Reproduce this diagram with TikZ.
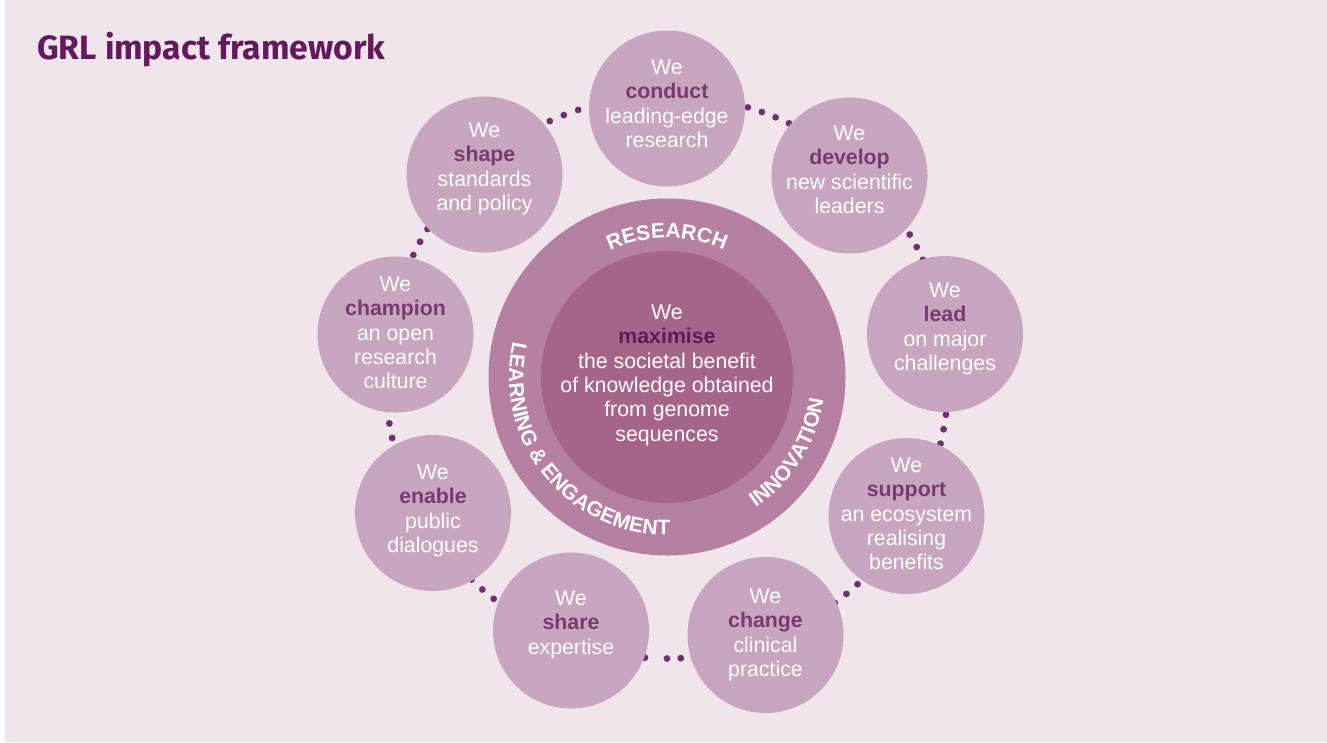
\documentclass[tikz,border=0pt]{standalone}
\usepackage{fontspec}
\setmainfont{Liberation Sans}
\newfontfamily\titlefont{Fira Sans}

\definecolor{bgc}{HTML}{EFE5EB}
\definecolor{bubc}{HTML}{C9A6BF}
\definecolor{ringc}{HTML}{B580A1}
\definecolor{corec}{HTML}{A5658B}
\definecolor{dotc}{HTML}{703070}
\definecolor{kwc}{HTML}{773A71}
\definecolor{corekw}{HTML}{5C1C58}
\definecolor{titlec}{HTML}{63195C}

% strut fixing the height of the first line of each text block
\newcommand\firstln{\rule{0pt}{16pt}}
\newcommand\kw[1]{{\bfseries\color{kwc}#1}}
\newcommand\ringsize{21}
\newcommand\ringfont{\fontsize{\ringsize}{24}\bfseries\selectfont}

% letters set one by one along a circle around (C)
% #1 radius, #2 middle angle, #3 1 = clockwise with tops outward,
% -1 = anticlockwise with tops inward, #4 name, #5 word width (1/1000 em),
% #6 list letter/centre offset (1/1000 em)
\newcommand\ringword[6]{%
  \foreach \ch/\off [count=\i] in {#6} {%
    \pgfmathsetmacro\rwang{#2-#3*180/(pi*#1)*\ringsize/1000*(\off-#5/2)}%
    \pgfmathsetmacro\rwrot{\rwang-#3*90}%
    \path (C) ++(-\rwang:#1) node[ringlabel, rotate=\rwrot] (#4-\i) {\ch};
  }%
}

\begin{document}
\begin{tikzpicture}[x=1pt,y=-1pt,
  bubble/.style={circle, fill=bubc, minimum size=156pt, inner sep=0pt},
  bubtext/.style={anchor=north, align=center, inner sep=0pt, text=white,
    font=\fontsize{21.3}{24.4}\selectfont},
  dotmark/.style={fill=dotc},
  ringlabel/.style={anchor=base, inner sep=0pt, text=white, font=\ringfont}]

% page and background
\useasboundingbox (0,0) rectangle (1327,742);
\fill[white] (0,0) rectangle (5,742);
\fill[bgc] (5,0) rectangle (1327,742);

% title
\node[anchor=base west, inner sep=0pt, text=titlec,
  font=\titlefont\bfseries\fontsize{33.7}{38}\selectfont] (title) at (37,59.5) {GRL impact framework};

\coordinate (C) at (667,377);

% dotted ring linking the outer circles
\foreach \a in {76.3,73.3,70.3,67.3,64.3,61.3,
                33.4,30.4,27.5,24.6,21.6,
                -4.7,-7.7,-10.7,-13.7,-16.7,
                -44.4,-47.4,-50.4,-53.4,-56.4,
                -84.2,-87.2,-90,-94.5,-97.5,
                -122,-125,-128,-131,-134,
                183.5,186.5,189.5,192.5,195.5,
                145.3,148.3,151.3,154.3,157.3,
                105.4,108.4,111.5,114.6,117.7}
  \fill[dotmark] (C) ++(-\a:281.5) circle[radius=3.4];

% outer circles
\node[bubble] (conduct)  at (667,108.5) {};
\node[bubble] (develop)  at (849.5,175.5) {};
\node[bubble] (lead)     at (945,334) {};
\node[bubble] (support)  at (906.5,516) {};
\node[bubble] (change)   at (765.5,635) {};
\node[bubble] (share)    at (571,630.5) {};
\node[bubble] (enable)   at (433,513) {};
\node[bubble] (champion) at (395.5,334.5) {};
\node[bubble] (shape)    at (484.5,174.5) {};

% central rings
\node[circle, fill=ringc, minimum size=357pt, inner sep=0pt] (ring) at (C) {};
\node[circle, fill=corec, minimum size=252pt, inner sep=0pt] (core) at (C) {};

% ring labels
\ringword{139}{90}{1}{res}{5611}{R/361,E/1055.5,S/1722.5,E/2389.5,A/3084,R/3806,C/4528,H/5250}
\ringword{158}{-32}{-1}{inno}{6278}{I/139,N/639,N/1361,O/2111,V/2833.5,A/3528,T/4194.5,I/4639,O/5167,N/5917}
\ringword{158}{219}{-1}{learn}{13667}{L/305.5,E/944.5,A/1639,R/2361,N/3083,I/3583,N/4083,G/4833,\&/5861,E/6833.5,N/7528,G/8278,A/9028,G/9778,E/10500.5,M/11250.5,E/12000.5,N/12695,T/13361.5}

% texts
\node[bubtext] (tconduct) at (667,58) {\firstln We\\ \kw{conduct}\\ leading-edge\\ research};
\node[bubtext] (tdevelop) at (849.5,124) {\firstln We\\ \kw{develop}\\ new scientific\\ leaders};
\node[bubtext] (tlead) at (945,281) {\firstln We\\ \kw{lead}\\ on major\\ challenges};
\node[bubtext] (tsupport) at (906.5,456) {\firstln We\\ \kw{support}\\ an ecosystem\\ realising\\ benefits};
\node[bubtext] (tchange) at (765.5,587) {\firstln We\\ \kw{change}\\ clinical\\ practice};
\node[bubtext] (tshare) at (571,589) {\firstln We\\ \kw{share}\\ expertise};
\node[bubtext] (tenable) at (433,463) {\firstln We\\ \kw{enable}\\ public\\ dialogues};
\node[bubtext] (tchampion) at (395.5,275) {\firstln We\\ \kw{champion}\\ an open\\ research\\ culture};
\node[bubtext] (tshape) at (484.5,121) {\firstln We\\ \kw{shape}\\ standards\\ and policy};
\node[bubtext] (tcore) at (667,303) {\firstln We\\ {\bfseries\color{corekw}maximise}\\ the societal benefit\\ of knowledge obtained\\ from genome\\ sequences};

\end{tikzpicture}
\end{document}
